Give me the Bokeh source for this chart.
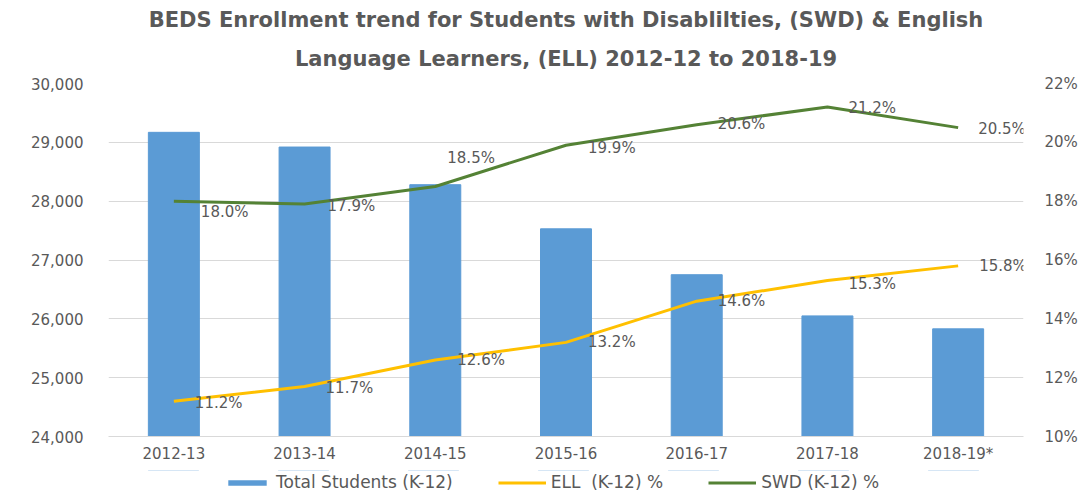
from bokeh.plotting import figure
from bokeh.layouts import column
from bokeh.models import (Range1d, LinearAxis, NumeralTickFormatter, Title, Legend,
                          LegendItem, ColumnDataSource, FactorRange, FixedTicker,
                          CustomJSTickFormatter)
from bokeh.core.properties import value
from bokeh.embed import file_html
from bokeh.resources import INLINE

# ---- data ----
years = ["2012-13", "2013-14", "2014-15", "2015-16", "2016-17", "2017-18", "2018-19*"]
total_students = [29170, 28920, 28280, 27530, 26750, 26050, 25830]
ell_pct = [11.2, 11.7, 12.6, 13.2, 14.6, 15.3, 15.8]
swd_pct = [18.0, 17.9, 18.5, 19.9, 20.6, 21.2, 20.5]
left_ticks = [24000, 25000, 26000, 27000, 28000, 29000, 30000]
right_ticks = [10, 12, 14, 16, 18, 20, 22]

# label offsets in pixels (style)
swd_dx = [27, 23, 12, 22, 21, 21, 20]
swd_dy = [11, 2, -28, 3, -1, 1, 1]
ell_dx = [21, 21, 22, 22, 21, 21, 21]
ell_dy = [2, 2, 0, 0, 0, 3, 0]

GRAY = "#595959"
FONT = "DejaVu Sans"
BLUE, GOLD, GREEN = "#5B9BD5", "#FFC000", "#548235"

p = figure(frame_width=915, frame_height=353, x_range=FactorRange(*years),
           y_range=Range1d(24000, 30000), output_backend="svg",
           toolbar_location=None, title=None,
           min_border_left=108, min_border_right=52, min_border_top=83,
           min_border_bottom=34)
p.extra_y_ranges = {"pct": Range1d(10, 22)}
p.outline_line_color = None

src = ColumnDataSource(dict(x=years, total=total_students, ell=ell_pct, swd=swd_pct,
                            ell_lbl=[f"{v:.1f}%" for v in ell_pct],
                            swd_lbl=[f"{v:.1f}%" for v in swd_pct],
                            swd_dx=swd_dx, swd_dy=swd_dy, ell_dx=ell_dx, ell_dy=ell_dy))

p.vbar(x="x", top="total", bottom=0, width=0.39, color=BLUE, source=src)
p.line(x="x", y="ell", color=GOLD, line_width=3, y_range_name="pct", source=src)
p.line(x="x", y="swd", color=GREEN, line_width=3, y_range_name="pct", source=src)

p.text(x="x", y="swd", text="swd_lbl", y_range_name="pct", source=src,
       x_offset="swd_dx", y_offset="swd_dy", text_baseline="middle", text_align="left",
       text_font_size="15px", text_color=GRAY, text_font=value(FONT))
p.text(x="x", y="ell", text="ell_lbl", y_range_name="pct", source=src,
       x_offset="ell_dx", y_offset="ell_dy", text_baseline="middle", text_align="left",
       text_font_size="15px", text_color=GRAY, text_font=value(FONT))

# axes
p.yaxis.ticker = FixedTicker(ticks=left_ticks)
p.yaxis.formatter = NumeralTickFormatter(format="0,0")
for ax in [p.yaxis[0], p.xaxis[0]]:
    ax.axis_line_color = None
    ax.major_tick_line_color = None
    ax.minor_tick_line_color = None
    ax.major_label_text_color = GRAY
    ax.major_label_text_font = FONT
    ax.major_label_text_font_size = "15px"
p.yaxis.major_label_standoff = 19
p.xaxis.axis_line_color = "#D9D9D9"
p.xaxis.major_label_standoff = 2

r_axis = LinearAxis(y_range_name="pct", ticker=FixedTicker(ticks=right_ticks),
                    formatter=CustomJSTickFormatter(code="return tick + '%';"))
r_axis.axis_line_color = None
r_axis.major_tick_line_color = None
r_axis.minor_tick_line_color = None
r_axis.major_label_text_color = GRAY
r_axis.major_label_text_font = FONT
r_axis.major_label_text_font_size = "15px"
r_axis.major_label_standoff = 15
p.add_layout(r_axis, "right")

p.xgrid.grid_line_color = None
p.ygrid.grid_line_color = "#D9D9D9"
p.ygrid.grid_line_width = 1

# titles
t2 = Title(text="Language Learners, (ELL) 2012-12 to 2018-19", align="center",
           text_font=FONT, text_font_size="21px", text_font_style="bold",
           text_color=GRAY, standoff=26)
t1 = Title(text="BEDS Enrollment trend for Students with Disablilties, (SWD) & English",
           align="center", text_font=FONT, text_font_size="21px", text_font_style="bold",
           text_color=GRAY, standoff=0)
p.add_layout(t2, "above")
p.add_layout(t1, "above")

# legend row (separate strip below the chart); its proxy glyphs use the same data
# but lie far outside this strip's visible y-range, so only the legend shows
lf = figure(width=1075, height=23, x_range=FactorRange(*years),
            y_range=Range1d(-2000000, -1000000),
            x_axis_type=None, y_axis_type=None, output_backend="svg",
            toolbar_location=None, title=None, min_border=0)
lf.outline_line_color = None
lf.grid.visible = False
lb = lf.vbar(x="x", top="total", bottom=0, width=0.39, fill_color=BLUE,
             line_color=None, source=src)
ll1 = lf.line(x="x", y="ell", color=GOLD, line_width=3, source=src)
ll2 = lf.line(x="x", y="swd", color=GREEN, line_width=3, source=src)
legend = Legend(items=[LegendItem(label="Total Students (K-12)", renderers=[lb]),
                       LegendItem(label="ELL  (K-12) %", renderers=[ll1]),
                       LegendItem(label="SWD (K-12) %", renderers=[ll2])],
                orientation="horizontal", location=(115, 1), margin=0, padding=2,
                spacing=45, glyph_width=48, glyph_height=7, label_standoff=5,
                label_text_font=FONT, label_text_font_size="17px",
                label_text_color=GRAY, border_line_color=None,
                background_fill_alpha=0)
lf.add_layout(legend, "center")

layout = column(p, lf, spacing=0)
open("out.html", "w").write(file_html(layout, INLINE))
